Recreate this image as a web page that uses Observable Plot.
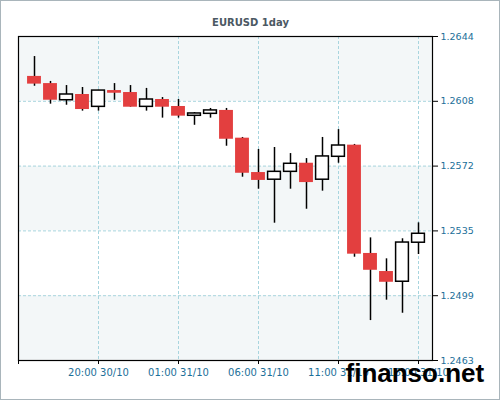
<!DOCTYPE html>
<html><head><meta charset="utf-8">
<script src="https://cdn.jsdelivr.net/npm/d3@7"></script>
<script src="https://cdn.jsdelivr.net/npm/@observablehq/plot@0.6"></script>
<style>
html,body{margin:0;padding:0;background:#fff}
#chart{width:500px;height:400px}
#chart svg{display:block;background:linear-gradient(180deg,#f8fbfc 0%,#f1f6f7 60%,#e5ecef 100%);outline:1px solid #a9b5bb;outline-offset:-1px}
</style></head><body><div id="chart"></div>
<script>
const title = "EURUSD 1day";
const watermark = "finanso.net";
const times = [
  "2014-10-30T16:00Z","2014-10-30T17:00Z","2014-10-30T18:00Z","2014-10-30T19:00Z",
  "2014-10-30T20:00Z","2014-10-30T21:00Z","2014-10-30T22:00Z","2014-10-30T23:00Z",
  "2014-10-31T00:00Z","2014-10-31T01:00Z","2014-10-31T02:00Z","2014-10-31T03:00Z",
  "2014-10-31T04:00Z","2014-10-31T05:00Z","2014-10-31T06:00Z","2014-10-31T07:00Z",
  "2014-10-31T08:00Z","2014-10-31T09:00Z","2014-10-31T10:00Z","2014-10-31T11:00Z",
  "2014-10-31T12:00Z","2014-10-31T13:00Z","2014-10-31T14:00Z","2014-10-31T15:00Z",
  "2014-10-31T16:00Z"
];
const open  = [1.26217,1.26177,1.26084,1.26116,1.26047,1.26138,1.26127,1.26047,1.26088,1.26049,1.25997,1.26008,1.26027,1.25872,1.25680,1.25640,1.25684,1.25732,1.25640,1.25768,1.25833,1.25228,1.25127,1.25070,1.25288];
const close = [1.26174,1.26084,1.26116,1.26032,1.26138,1.26123,1.26045,1.26088,1.26045,1.25995,1.26010,1.26027,1.25866,1.25676,1.25636,1.25684,1.25729,1.25624,1.25770,1.25831,1.25224,1.25134,1.25067,1.25289,1.25338];
const high  = [1.26328,1.26189,1.26166,1.26155,1.26140,1.26177,1.26166,1.26150,1.26099,1.26088,1.26015,1.26038,1.26038,1.25876,1.25809,1.25820,1.25786,1.25758,1.25876,1.25920,1.25837,1.25315,1.25198,1.25310,1.25399];
const low   = [1.26162,1.26062,1.26056,1.26023,1.26023,1.26084,1.26045,1.26023,1.25984,1.25984,1.25944,1.25984,1.25827,1.25654,1.25587,1.25397,1.25587,1.25475,1.25576,1.25732,1.25207,1.24853,1.24967,1.24894,1.25222];

const yTicks = [1.2463, 1.24992, 1.25354, 1.25716, 1.26078, 1.2644];
const yTickLabels = ["1.2463","1.2499","1.2535","1.2572","1.2608","1.2644"];
const xTickTimes = ["2014-10-30T15:00Z","2014-10-30T20:00Z","2014-10-31T01:00Z","2014-10-31T06:00Z","2014-10-31T11:00Z","2014-10-31T16:00Z"];
const xTickLabels = ["","20:00 30/10","01:00 31/10","06:00 31/10","11:00 31/10","16:00 31/10"];
const xDomain = ["2014-10-30T15:00Z","2014-10-31T16:52:30Z"];

const candles = times.map((t,i)=>({date:new Date(t), open:open[i], close:close[i], high:high[i], low:low[i]}));
const up = candles.filter(d=>d.close>=d.open);
const down = candles.filter(d=>d.close<d.open);
const bands = yTicks.slice(0,-1).map((v,i)=>({y1:v, y2:yTicks[i+1], light: i%2===0}));
const xTicks = xTickTimes.map(t=>new Date(t));
const xLabelMap = new Map(xTicks.map((d,i)=>[+d, xTickLabels[i]]));
const yLabelMap = new Map(yTicks.map((v,i)=>[v, yTickLabels[i]]));
const MIN = 60000;
const shift = (d,m)=>new Date(+d + m*MIN);

const teal = "#1b6f99";
const red = "#e33f3f";
const grid = "#a8d5de";

const chart = Plot.plot({
  width: 500, height: 400,
  marginLeft: 18, marginRight: 68, marginTop: 36, marginBottom: 40,
  style: {fontFamily: "'DejaVu Sans', sans-serif", fontSize: "9.5px", background: "transparent"},
  x: {type: "utc", domain: xDomain.map(t=>new Date(t)), axis: null},
  y: {domain: [yTicks[0], yTicks[yTicks.length-1]], axis: null},
  marks: [
    Plot.rect(bands, {y1: "y1", y2: "y2", fill: d => d.light ? "#f3f7f8" : "#ffffff"}),
    Plot.gridY(yTicks.slice(1,-1), {stroke: grid, strokeOpacity: 1, strokeDasharray: "3,2"}),
    Plot.gridX(xTicks.slice(1), {stroke: grid, strokeOpacity: 1, strokeDasharray: "3,2"}),
    Plot.ruleX(candles, {x: "date", y1: "low", y2: "high", stroke: "black", strokeWidth: 1.5}),
    Plot.rect(down, {x1: d=>shift(d.date,-26), x2: d=>shift(d.date,26), y1: "open", y2: "close", fill: red}),
    Plot.rect(up, {x1: d=>shift(d.date,-24), x2: d=>shift(d.date,24), y1: "open", y2: "close", fill: "white", stroke: "black", strokeWidth: 1.5}),
    Plot.frame({stroke: "black", strokeWidth: 1.2}),
    Plot.axisY(yTicks, {anchor: "right", tickSize: 5, tickPadding: 3, tickFormat: v => yLabelMap.get(v), stroke: "black", fill: teal, fontSize: 9.5}),
    Plot.axisX(xTicks, {anchor: "bottom", tickSize: 4, tickPadding: 4, tickFormat: d => xLabelMap.get(+d), stroke: "black", fill: teal, fontSize: 10}),
    Plot.text([title], {frameAnchor: "top", dx: 25, dy: -18, fontWeight: "bold", fontSize: 10, fill: "#4b5863"}),
    Plot.text([watermark], {frameAnchor: "bottom-right", dx: -87, dy: 13, textAnchor: "start", lineAnchor: "middle", fontSize: 26, fontWeight: "bold", fontFamily: "'Liberation Sans', Arial, sans-serif", fill: "black"})
  ]
});
document.getElementById("chart").appendChild(chart);
</script></body></html>
